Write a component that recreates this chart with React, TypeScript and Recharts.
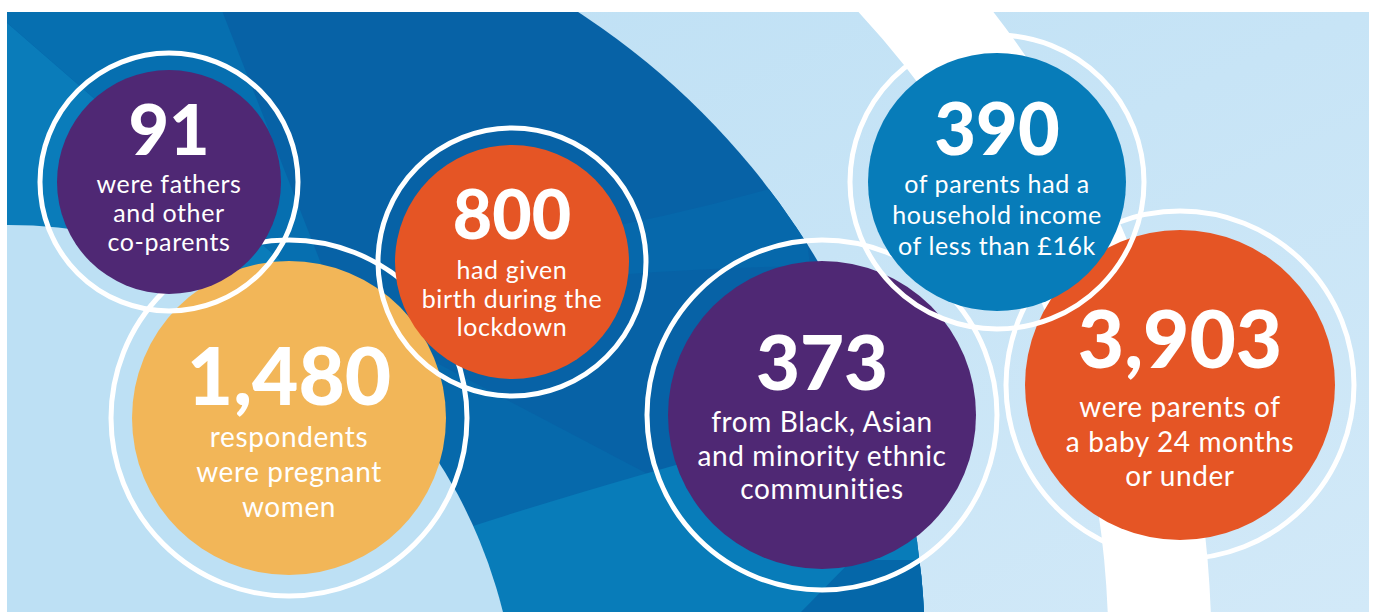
import React from 'react';
import { ScatterChart, Scatter, XAxis, YAxis, Customized } from 'recharts';

const W = 1373;
const H = 613;

const values = ['91', '1,480', '800', '373', '390', '3,903'];
const captions = [
  ['were fathers', 'and other', 'co-parents'],
  ['respondents', 'were pregnant', 'women'],
  ['had given', 'birth during the', 'lockdown'],
  ['from Black, Asian', 'and minority ethnic', 'communities'],
  ['of parents had a', 'household income', 'of less than £16k'],
  ['were parents of', 'a baby 24 months', 'or under'],
];
const colors = ['#4f2874', '#f2b658', '#e55525', '#4f2874', '#077cb9', '#e55525'];

// where each bubble sits on the page (chart px), its text offsets and stacking order
const layout = [
  { x: 169, y: 182, r: 112, ring: 129, numY: -27, lineY: 11, gap: 29, numSize: 70, textSize: 25, z: 1 },
  { x: 289, y: 418, r: 157, ring: 178, numY: -13, lineY: 29, gap: 35, numSize: 80, textSize: 28, z: 0 },
  { x: 512, y: 262, r: 117, ring: 134, numY: -23, lineY: 17, gap: 28.5, numSize: 68, textSize: 25, z: 2 },
  { x: 822, y: 415, r: 154, ring: 175, numY: -25, lineY: 17, gap: 33.5, numSize: 76, textSize: 28, z: 3 },
  { x: 997, y: 182, r: 129, ring: 147, numY: -27, lineY: 11, gap: 31, numSize: 72, textSize: 25, z: 5 },
  { x: 1180, y: 385, r: 155, ring: 174, numY: -17, lineY: 32, gap: 34.5, numSize: 80, textSize: 28, z: 4 },
];

const points = values
  .map((v, i) => ({ ...layout[i], value: v, lines: captions[i], color: colors[i] }))
  .sort((a, b) => a.z - b.z);

const FONT = 'Lato, "Open Sans", sans-serif';

function Backdrop() {
  return (
    <g>
      <defs>
        <clipPath id="panelClip">
          <rect x={7} y={12} width={1362} height={600} />
        </clipPath>
        <clipPath id="arcClip">
          <circle cx={163} cy={651} r={762} />
        </clipPath>
        <linearGradient id="sky" x1="0" y1="0" x2="1" y2="1">
          <stop offset="0" stopColor="#bcdff4" />
          <stop offset="1" stopColor="#d2e9f8" />
        </linearGradient>
      </defs>
      <rect x={0} y={0} width={W} height={H} fill="#ffffff" />
      <g clipPath="url(#panelClip)">
        <rect x={7} y={12} width={1362} height={600} fill="url(#sky)" />
        <circle cx={163} cy={651} r={762} fill="#0762a6" />
        <g clipPath="url(#arcClip)">
          <path d="M340 312 L-40 -18 L-40 700 Z" fill="#0a7cba" />
          <path d="M340 312 L-40 -18 L-40 -20 L210 -20 Z" fill="#066fb0" />
          <path d="M340 312 L720 512 Q560 500 430 545 Z" fill="#0669ab" />
          <path d="M560 236 Q680 216 800 180 L810 266 Q680 268 560 280 Z" fill="#0668ab" />
          <path d="M430 540 Q640 470 940 395 L1000 395 L1000 700 L430 700 Z" fill="#087cb9" />
          <path d="M852 560 L800 613 L940 613 L930 560 Z" fill="#0567a9" />
        </g>
        <circle cx={8} cy={735} r={510} fill="#bde0f4" />
        <circle cx={167} cy={651} r={993} fill="none" stroke="#ffffff" strokeWidth={103} />
      </g>
    </g>
  );
}

const Bubble = (props: any) => {
  const { cx, cy, payload } = props;
  return (
    <g>
      <circle cx={cx} cy={cy} r={payload.ring} fill="none" stroke="#ffffff" strokeWidth={5} />
      <circle cx={cx} cy={cy} r={payload.r} fill={payload.color} />
      <g fontFamily={FONT} fill="#ffffff" textAnchor="middle">
        <text x={cx} y={cy + payload.numY} fontSize={payload.numSize} fontWeight={900}>
          {payload.value}
        </text>
        {payload.lines.map((t: string, i: number) => (
          <text
            key={i}
            x={cx}
            y={cy + payload.lineY + i * payload.gap}
            fontSize={payload.textSize}
            fontWeight={400}
            letterSpacing={0.6}
          >
            {t}
          </text>
        ))}
      </g>
    </g>
  );
};

export default function App() {
  return (
    <div style={{ position: 'absolute', left: 0, top: 0, width: W, height: H }}>
      <ScatterChart width={W} height={H} margin={{ top: 0, right: 0, bottom: 0, left: 0 }}>
        <Customized component={Backdrop} />
        <XAxis type="number" dataKey="x" domain={[0, W]} hide />
        <YAxis type="number" dataKey="y" domain={[0, H]} reversed hide />
        <Scatter data={points} shape={Bubble} isAnimationActive={false} />
      </ScatterChart>
    </div>
  );
}
